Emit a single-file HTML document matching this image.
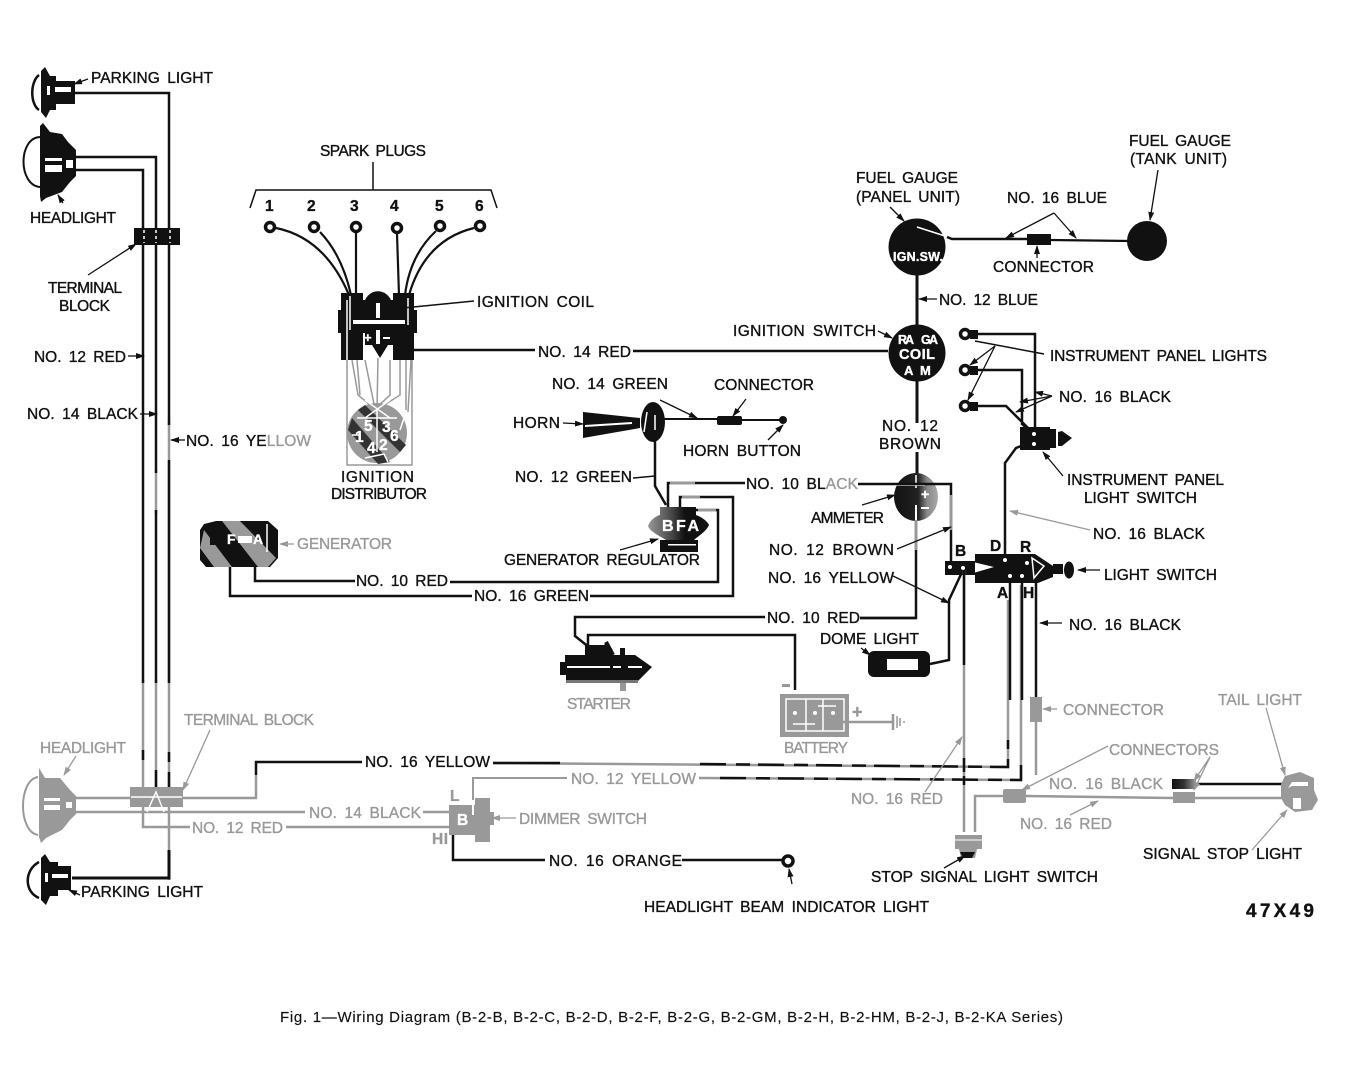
<!DOCTYPE html>
<html><head><meta charset="utf-8"><title>Wiring Diagram</title>
<style>
html,body{margin:0;padding:0;background:#fff}
svg{display:block}
text{font-family:"Liberation Sans",sans-serif;font-size:15.5px;word-spacing:3px;fill:#111;stroke:#111;stroke-width:.35}
text.g{fill:#999;stroke:#999}
text.w{fill:#fff;stroke:#fff;font-weight:bold}
text.b{font-weight:bold}
.k{fill:none;stroke:#111;stroke-width:3}
.t{fill:none;stroke:#111;stroke-width:1.5}
.y{fill:none;stroke:#999;stroke-width:3}
.u{fill:none;stroke:#999;stroke-width:1.5}
.a{fill:none;stroke:#111;stroke-width:1.3;marker-end:url(#ah)}
.ag{fill:none;stroke:#999;stroke-width:1.3;marker-end:url(#ahg)}
.d{fill:none;stroke:#111;stroke-width:2.5;stroke-dasharray:26 10 14 8}
</style></head><body>
<svg width="1352" height="1080" viewBox="0 0 1352 1080" xmlns="http://www.w3.org/2000/svg">
<defs>
<marker id="ah" markerWidth="9" markerHeight="7" refX="8" refY="3" orient="auto" markerUnits="userSpaceOnUse"><path d="M0,0L9,3L0,6Z" fill="#111"/></marker>
<marker id="ahg" markerWidth="9" markerHeight="7" refX="8" refY="3" orient="auto" markerUnits="userSpaceOnUse"><path d="M0,0L9,3L0,6Z" fill="#999"/></marker>
<linearGradient id="am" x1="0" x2="1"><stop offset="0" stop-color="#111"/><stop offset=".55" stop-color="#222"/><stop offset=".75" stop-color="#888"/><stop offset="1" stop-color="#aaa"/></linearGradient>
<linearGradient id="re" x1="0" x2="1"><stop offset="0" stop-color="#111"/><stop offset=".5" stop-color="#333"/><stop offset="1" stop-color="#999"/></linearGradient>
<linearGradient id="rg" x1="0" x2="1"><stop offset="0" stop-color="#999"/><stop offset=".4" stop-color="#444"/><stop offset=".6" stop-color="#111"/><stop offset="1" stop-color="#111"/></linearGradient>
</defs>
<rect width="1352" height="1080" fill="#fff"/>

<!-- upper left lamps -->
<path d="M39,75C30,82 30,104 39,110" fill="#fff" stroke="#111" stroke-width="2.5"/>
<path d="M41,71L45,67L50,76H56V81H75V104H56V110H50L46,118L41,112Z" fill="#111"/>
<rect x="47" y="86" width="3" height="9" fill="#fff"/><rect x="55" y="87" width="16" height="5" fill="#fff"/>
<path d="M40,137C18,138 18,185 40,187" fill="#fff" stroke="#111" stroke-width="2"/>
<path d="M40,126L43,123L50,132L62,134L68,142L76,150V176L70,182L62,192L46,198L41,202L40,196Z" fill="#111"/>
<rect x="45" y="158" width="17" height="3" fill="#fff"/><rect x="45" y="165" width="17" height="7" fill="#fff"/><rect x="66" y="160" width="7" height="8" fill="#fff"/>
<rect x="134" y="228" width="46" height="17" fill="#111"/>

<!-- vertical wires -->
<path class="y" d="M143,680V827H190M156,680V790M169,420V880" style="stroke-width:2.5"/>
<path class="y" d="M156,470V515" style="stroke-width:2.5"/>
<path class="k" style="stroke-width:2.5" d="M75,93H169V425M169,460V683M75,157H156V473M156,510V683M75,170H143V683"/>
<path class="k" style="stroke-width:2.5" d="M143,750V760M156,770V787M169,752V762M169,772V787"/>
<path d="M144,230V243M156,230V243M170,230V243" stroke="#fff" stroke-width="1.5" stroke-dasharray="3 3"/>
<path class="k" d="M169,850V878H72"/>

<!-- lower left -->
<path d="M38,777C18,780 18,832 38,835" fill="#fff" stroke="#999" stroke-width="2"/>
<path d="M39,768L45,778L60,778L70,790L76,796V814L70,820L62,830L46,838L41,843L39,837Z" fill="#999"/>
<rect x="44" y="798" width="16" height="3" fill="#fff"/><rect x="44" y="805" width="16" height="5" fill="#fff"/><rect x="66" y="802" width="6" height="6" fill="#fff"/>
<path class="y" d="M76,798H130M76,812H175M183,798H256V775M165,812H305M423,812H450M286,827H450" style="stroke-width:2.5"/>
<path class="k" d="M256,775V762H362" style="stroke-width:2.5"/>
<path class="y" style="stroke-width:2.5" d="M493,763L1008,767V600M699,778L1021,780V585"/>
<path class="k" style="stroke-width:2.5" d="M493,763H560"/>
<path class="d" d="M700,764L1008,767V740"/>
<path class="d" d="M720,778L1021,780V760"/>
<rect x="130" y="787" width="53" height="20" fill="#999"/>
<path d="M131,797H182M147,812L156,792L164,812" stroke="#fff" stroke-width="1.5" fill="none"/>
<path d="M39,862C24,870 24,892 39,898" fill="#fff" stroke="#111" stroke-width="2.5"/>
<path d="M41,858L45,854L50,862H58V866H71V890H58V896H50L46,905L41,900Z" fill="#111"/>
<rect x="45" y="873" width="3" height="9" fill="#fff"/><rect x="52" y="874" width="16" height="4" fill="#fff"/>

<!-- dimmer -->
<path d="M449,805H475V798H490V812H494V825H490V842H475V835H449Z" fill="#999"/>
<text class="w" x="457" y="825">B</text>
<path d="M473,815V800" stroke="#fff" stroke-width="2"/>
<path class="y" d="M473,800V778H567" style="stroke-width:2"/>
<path class="k" d="M453,835V860H545M682,860H782" style="stroke-width:2.5"/>
<circle cx="788" cy="861" r="5" fill="#fff" stroke="#111" stroke-width="3.5"/>
<path class="a" d="M792,884L789,869"/>

<!-- spark plugs -->
<path class="t" d="M250,208L256,190H491L497,208M373,162V190"/>
<g fill="#fff" stroke="#111" stroke-width="3.5"><circle cx="270" cy="227" r="4.5"/><circle cx="314" cy="227" r="4.5"/><circle cx="356" cy="227" r="4.5"/><circle cx="397" cy="228" r="4.5"/><circle cx="440" cy="226" r="4.5"/><circle cx="480" cy="226" r="4.5"/></g>
<path class="k" style="stroke-width:2.2" d="M276,228Q325,238 349,295M320,232Q342,255 351,295M356,233V295M397,234L399,295M436,231Q410,255 405,295M474,228Q425,240 409,295"/>

<!-- coil -->
<rect x="341" y="293" width="22" height="67" fill="#111"/>
<rect x="393" y="293" width="21" height="67" fill="#111"/>
<path d="M363,310C363,285 393,285 393,310Z" fill="#111"/>
<rect x="338" y="310" width="79" height="23" fill="#111"/>
<rect x="363" y="300" width="30" height="12" fill="#111"/>
<path d="M365,333H395V345L388,345L380,358L372,345H365Z" fill="#111"/>
<rect x="353" y="320" width="52" height="4" fill="#fff"/>
<path d="M347,300V360M350,296V330M408,298V325" stroke="#fff" stroke-width="1.5"/>
<rect x="376" y="303" width="4" height="15" fill="#fff"/><rect x="376" y="330" width="4" height="14" fill="#fff"/>
<text class="w" x="364" y="342" style="font-size:13px">+</text><rect x="383" y="337" width="7" height="2" fill="#fff"/>
<path class="t" d="M383,310L474,301"/>
<path class="k" d="M395,350H535M633,351H888" style="stroke-width:2.5"/>

<!-- distributor -->
<circle cx="377" cy="433" r="30" fill="#999"/>
<path d="M352,418L390,462L378,464L348,430Z" fill="#333"/>
<path d="M365,405L406,445L400,452L358,410Z" fill="#333"/>
<path class="u" d="M347,360V465H412V360M352,360L358,395L375,409L390,395V360M357,360L360,395M365,360L375,409M378,358L377,409M400,360L400,395L378,409M406,360V410M411,360L408,412"/>
<path d="M377,410V452M357,418L397,418M365,400L390,418M390,400L365,418M365,458L384,454L388,462M352,435H360M400,430L406,412" stroke="#fff" stroke-width="1.5" fill="none"/>
<g><text class="w" x="364" y="431">5</text><text class="w" x="382" y="432">3</text><text class="w" x="355" y="442">1</text><text class="w" x="390" y="441">6</text><text class="w" x="367" y="453">4</text><text class="w" x="379" y="450">2</text></g>

<!-- center wires -->
<circle cx="917" cy="247" r="28.5" fill="#111"/>
<circle cx="1147" cy="241" r="20" fill="#111"/>
<path d="M947,237L952,239H1028" stroke="#111" stroke-width="2.5" fill="none"/><path d="M917,227L945,236" stroke="#fff" stroke-width="1.6"/>
<rect x="1027" y="234" width="24" height="11" fill="#111"/>
<path class="k" d="M1051,240L1130,241" style="stroke-width:2.2"/>
<path class="k" d="M917,263V330M917,380V423M917,452V480"/>
<circle cx="917" cy="353" r="28.5" fill="#111"/>
<text class="w" x="893" y="261" style="font-size:12.5px;word-spacing:0" textLength="50">IGN.SW.</text>
<text class="w" x="898" y="344" style="font-size:12.5px" textLength="16">RA</text><text class="w" x="921" y="344" style="font-size:12.5px" textLength="17">GA</text>
<text class="w" x="899" y="359" style="font-size:14.5px" textLength="36">COIL</text>
<text class="w" x="904" y="375" style="font-size:13px">A</text><text class="w" x="920" y="375" style="font-size:13px">M</text>
<ellipse cx="916" cy="497" rx="22" ry="24" fill="url(#am)"/>
<path d="M916,475V488M895,485H925" stroke="#fff" stroke-width="1.5"/>
<text class="w" x="921" y="499" style="font-size:14px">+</text><rect x="921" y="507" width="8" height="2" fill="#fff"/>
<path d="M916,505V520" stroke="#fff" stroke-width="2"/>
<path class="k" d="M858,484H951V565M916,521V618H860" style="stroke-width:2.5"/>
<path d="M951,495V530M916,520V550" stroke="#999" stroke-width="3" fill="none"/>

<!-- light switch block -->
<path d="M975,554H1035L1053,566V577L1038,583H975V575H945V561H975Z" fill="#111"/>
<path d="M975,563L992,567L975,572" fill="#fff" stroke="#fff" stroke-width="1"/>
<path d="M1032,558L1044,566L1034,578Z" fill="none" stroke="#fff" stroke-width="1.5"/>
<rect x="1053" y="564" width="10" height="10" fill="#111"/>
<ellipse cx="1069" cy="570" rx="5" ry="8.5" fill="#111"/>
<g fill="#fff"><circle cx="950" cy="567" r="2"/><circle cx="963" cy="568" r="2"/><circle cx="1005" cy="560" r="2"/><circle cx="1010" cy="576" r="2"/><circle cx="1022" cy="576" r="2"/><circle cx="1027" cy="563" r="2"/></g>
<path class="k" d="M1005,556V463L1016,448L1032,442" style="stroke-width:2.5"/>
<path class="k" d="M963,570L949,600V660L930,664" style="stroke-width:2.5"/>
<path class="k" d="M1010,578V700M1022,578V700M1036,580V700" style="stroke-width:2.5"/>
<path class="y" d="M1036,700V775M964,570V832" style="stroke-width:2.5"/>
<path class="k" d="M964,570V665" style="stroke-width:2.5"/>
<rect x="1030" y="697" width="12" height="25" fill="#999"/>
<rect x="868" y="651" width="62" height="26" rx="6" fill="#111"/>
<rect x="887" y="659" width="31" height="11" fill="#fff"/>

<!-- instrument lights -->
<g fill="#fff" stroke="#111" stroke-width="3.5"><circle cx="965" cy="334" r="4.5"/><circle cx="965" cy="370" r="4.5"/><circle cx="965" cy="406" r="4.5"/></g>
<rect x="970" y="330" width="8" height="9" fill="#111"/><rect x="970" y="366" width="8" height="9" fill="#111"/><rect x="970" y="402" width="8" height="9" fill="#111"/>
<path class="k" style="stroke-width:2.5" d="M975,334H1035V430M975,370H1022V424L1034,434M975,406H1006L1034,434"/>
<path d="M1020,427H1050V450H1020Z" fill="#111"/><path d="M1050,429V448H1056V429ZM1058,432V446H1062L1072,438L1062,431Z" fill="#111"/>
<circle cx="1034" cy="434" r="2" fill="#fff"/><circle cx="1034" cy="444" r="2" fill="#fff"/>
<path class="t" d="M975,341L1044,354"/>
<path class="a" d="M995,346L970,365"/><path class="a" d="M995,346L968,400"/>
<path class="a" d="M1052,396L1035,392"/><path class="a" d="M1052,396L1020,402"/><path class="a" d="M1052,396L1016,412"/>
<path class="a" d="M1063,476L1043,452"/>
<path d="M1090,530L1010,511" class="ag"/>

<!-- horn -->
<path d="M583,412L640,418V428L583,438Z" fill="#111"/><path d="M585,426L632,423" stroke="#fff" stroke-width="2"/>
<ellipse cx="653" cy="422" rx="12" ry="20" fill="#111"/><path d="M647,412L644,432M655,415V430" stroke="#fff" stroke-width="1.5"/>
<path class="k" style="stroke-width:2" d="M660,419H717M742,420H781"/>
<rect x="717" y="416" width="25" height="9" rx="2" fill="#111"/>
<circle cx="783" cy="420" r="4" fill="#111"/>
<path class="k" style="stroke-width:2.5" d="M655,440V486L666,505"/>
<path class="a" d="M660,400L697,418"/><path class="a" d="M746,399L733,416"/><path class="a" d="M768,440L783,425"/><path class="a" d="M563,423L583,424"/>
<path class="t" d="M633,478L655,476"/>

<!-- regulator -->
<path class="k" style="stroke-width:2.5" d="M668,507V483H745"/>
<path class="k" style="stroke-width:2.5" d="M680,510V497H733V596H590"/>
<path class="k" style="stroke-width:2.5" d="M695,510H718V582H450"/>
<path d="M670,483H695M682,497H700M698,510H716" stroke="#999" stroke-width="3"/>
<path d="M660,507H696V515C702,517 708,522 709,525C706,532 698,536 694,540H666C660,536 650,532 648,526C650,520 656,516 660,515Z" fill="url(#rg)"/>
<rect x="660" y="540" width="38" height="12" fill="#111"/>
<rect x="668" y="544" width="28" height="1.5" fill="#fff"/>
<text class="w" x="662" y="531" style="font-size:16px" textLength="37">BFA</text>
<path class="a" d="M620,550L658,539"/>

<!-- generator -->
<path class="k" style="stroke-width:2.5" d="M355,581H255V565"/>
<path class="k" style="stroke-width:2.5" d="M230,565V596H472"/>
<path d="M204,524L216,521H268L278,530V558L270,567H206L200,560V530Z" fill="#111"/>
<path d="M204,530L232,567H214L200,548ZM222,521H240L276,558L268,567H258Z" fill="#999"/>
<path d="M210,535H222V545H210Z" fill="#111"/>
<text class="w" x="227" y="544" style="font-size:14px">F</text><text class="w" x="253" y="544" style="font-size:14px">A</text>
<rect x="238" y="536" width="14" height="7" fill="#fff"/>
<path d="M267,524V552" stroke="#fff" stroke-width="1.5"/>

<!-- starter & battery -->
<path class="k" style="stroke-width:2.5" d="M765,617H575V636L590,648M588,650V635H795V690"/>
<path class="k" style="stroke-width:2.5" d="M860,618H916"/>
<path d="M565,655H635L652,667L637,682H566V675H560V662H565Z" fill="#111"/>
<path d="M585,645H604L608,642L613,655H585ZM620,648H625V655H620Z" fill="#111"/>
<path d="M606,642L613,655" stroke="#111" stroke-width="4"/>
<path d="M567,667H610M613,667H621M628,667H642" stroke="#fff" stroke-width="2"/>
<rect x="620" y="683" width="6" height="8" fill="#999"/>
<rect x="566" y="680" width="72" height="3" fill="#777"/>
<rect x="780" y="694" width="69" height="43" fill="#999"/>
<rect x="786" y="699" width="58" height="32" fill="none" stroke="#fff" stroke-width="1.5"/>
<path d="M806,699V731M823,699V731M793,724H815M818,706H836" stroke="#fff" stroke-width="1.5"/>
<g fill="#fff"><circle cx="795" cy="713" r="2"/><circle cx="815" cy="713" r="2"/><circle cx="833" cy="713" r="2"/></g>
<rect x="782" y="684" width="8" height="3" fill="#999"/>
<path class="y" d="M838,722H893" style="stroke-width:2.5"/>
<path d="M893,714V730" stroke="#999" stroke-width="2.5"/><path d="M897,716V728M900,718V726M903,722H905" stroke="#999" stroke-width="1.5"/>
<text class="g" x="852" y="718" style="font-size:18px;font-weight:bold">+</text>

<!-- stop switch and tail -->
<path class="y" d="M975,832V796H1003M1026,796L1173,798M1195,798H1282" style="stroke-width:2.5"/>
<path class="k" d="M964,758V772M964,776V785M1196,784H1282" style="stroke-width:2.5"/>
<rect x="1003" y="789" width="23" height="14" rx="2" fill="#999"/>
<rect x="1173" y="792" width="22" height="11" fill="#999"/>
<rect x="1172" y="779" width="24" height="10" fill="url(#re)"/>
<path d="M955,835H982V849H977L975,858H961L959,849H955Z" fill="#999"/><path d="M960,852H975L972,858H963Z" fill="#111"/>
<path d="M955,840H982" stroke="#fff" stroke-width="1"/>
<path d="M1285,776L1300,772L1314,778V790L1318,800L1312,810L1295,812L1285,805L1281,798V784Z" fill="#999"/>
<path d="M1288,788L1292,782H1308V786H1292Z" fill="#fff"/><rect x="1293" y="798" width="8" height="11" fill="#fff"/>

<!-- arrows, black -->
<path class="a" d="M88,79L74,84"/><path class="a" d="M63,203L58,195"/>
<path class="a" d="M88,275L136,244"/>
<path class="a" d="M128,356H144"/><path class="a" d="M140,414H157"/><path class="a" d="M185,440H171"/>
<path class="a" d="M80,895L69,890"/>
<path class="a" d="M878,331L892,338"/>
<path class="a" d="M890,207L904,221"/>
<path class="a" d="M1054,213L1006,238"/><path class="a" d="M1054,213L1076,238"/>
<path class="a" d="M1037,258L1037,246"/>
<path class="a" d="M1158,170L1150,220"/>
<path class="a" d="M937,299H919"/>
<path class="a" d="M1100,570H1078"/>
<path class="a" d="M1062,623H1040"/>
<path class="a" d="M897,549L951,527"/>
<path class="a" d="M893,576L949,603"/>
<path class="a" d="M862,505L895,495"/>
<path class="a" d="M861,648L870,655"/>
<path class="a" d="M944,868L965,856"/>
<!-- arrows, gray -->
<path class="ag" d="M294,544H280"/>
<path class="ag" d="M1057,709H1043"/>
<path class="ag" d="M210,730L183,790"/>
<path class="ag" d="M76,756L64,775"/>
<path class="ag" d="M516,818H492"/>
<path class="ag" d="M1108,746L1022,790"/>
<path class="ag" d="M1210,757L1194,781"/><path class="ag" d="M1210,757L1194,790"/>
<path class="ag" d="M1266,708L1285,775"/>
<path class="ag" d="M1252,850L1287,810"/>
<path class="ag" d="M925,792L962,737"/>
<path class="ag" d="M1070,815L1098,801"/>

<!-- labels -->
<text x="91" y="83" textLength="122">PARKING LIGHT</text>
<text x="30" y="223" textLength="86">HEADLIGHT</text>
<text x="48" y="293" textLength="74">TERMINAL</text><text x="59" y="311" textLength="51">BLOCK</text>
<text x="34" y="362" textLength="92">NO. 12 RED</text>
<text x="27" y="419" textLength="111">NO. 14 BLACK</text>
<text x="186" y="446" textLength="125">NO. 16 YE<tspan fill="#999" stroke="#999">LLOW</tspan></text>
<text x="320" y="156" textLength="106">SPARK PLUGS</text>
<g><text class="b" x="265" y="211">1</text><text class="b" x="307" y="211">2</text><text class="b" x="350" y="211">3</text><text class="b" x="390" y="211">4</text><text class="b" x="435" y="211">5</text><text class="b" x="475" y="211">6</text></g>
<text x="477" y="307" textLength="117">IGNITION COIL</text>
<text x="538" y="357" textLength="93">NO. 14 RED</text>
<text x="733" y="336" textLength="143">IGNITION SWITCH</text>
<text x="341" y="482" textLength="73">IGNITION</text><text x="331" y="499" textLength="96">DISTRIBUTOR</text>
<text x="856" y="183" textLength="102">FUEL GAUGE</text><text x="856" y="202" textLength="104">(PANEL UNIT)</text>
<text x="1129" y="146" textLength="102">FUEL GAUGE</text><text x="1130" y="164" textLength="97">(TANK UNIT)</text>
<text x="1007" y="203" textLength="100">NO. 16 BLUE</text>
<text x="993" y="272" textLength="101">CONNECTOR</text>
<text x="939" y="305" textLength="99">NO. 12 BLUE</text>
<text x="1050" y="361" textLength="217">INSTRUMENT PANEL LIGHTS</text>
<text x="1059" y="402" textLength="112">NO. 16 BLACK</text>
<text x="1067" y="485" textLength="157">INSTRUMENT PANEL</text><text x="1084" y="503" textLength="113">LIGHT SWITCH</text>
<text x="882" y="431" textLength="56">NO. 12</text><text x="879" y="449" textLength="62">BROWN</text>
<text x="746" y="489" textLength="112">NO. 10 BL<tspan fill="#999" stroke="#999">ACK</tspan></text>
<text x="811" y="523" textLength="73">AMMETER</text>
<text x="769" y="555" textLength="125">NO. 12 BROWN</text>
<text x="768" y="583" textLength="126">NO. 16 YELLOW</text>
<text x="1093" y="539" textLength="112">NO. 16 BLACK</text>
<text x="1104" y="580" textLength="113">LIGHT SWITCH</text>
<text class="b" x="955" y="556" textLength="12">B</text><text class="b" x="990" y="551" textLength="12">D</text><text class="b" x="1020" y="552" textLength="13">R</text><text class="b" x="997" y="598" textLength="11">A</text><text class="b" x="1023" y="598" textLength="13">H</text>
<text x="1069" y="630" textLength="112">NO. 16 BLACK</text>
<text x="552" y="389" textLength="116">NO. 14 GREEN</text>
<text x="714" y="390" textLength="100">CONNECTOR</text>
<text x="513" y="428" textLength="47">HORN</text>
<text x="683" y="456" textLength="118">HORN BUTTON</text>
<text x="515" y="482" textLength="117">NO. 12 GREEN</text>
<text class="g" x="297" y="549" textLength="95">GENERATOR</text>
<text x="504" y="565" textLength="196">GENERATOR REGULATOR</text>
<text x="356" y="586" textLength="92">NO. 10 RED</text>
<text x="474" y="601" textLength="115">NO. 16 GREEN</text>
<text x="767" y="623" textLength="93">NO. 10 RED</text>
<text x="820" y="644" textLength="99">DOME LIGHT</text>
<text class="g" x="567" y="709" textLength="64">STARTER</text>
<text class="g" x="784" y="753" textLength="64">BATTERY</text>
<text class="g" x="1063" y="715" textLength="101">CONNECTOR</text>
<text class="g" x="1109" y="755" textLength="110">CONNECTORS</text>
<text class="g" x="1218" y="705" textLength="84">TAIL LIGHT</text>
<text x="365" y="767" textLength="125">NO. 16 YELLOW</text>
<text class="g" x="571" y="784" textLength="125">NO. 12 YELLOW</text>
<text class="g" x="1049" y="789" textLength="114">NO. 16 BLACK</text>
<text class="g" x="851" y="804" textLength="92">NO. 16 RED</text>
<text class="g" x="1020" y="829" textLength="92">NO. 16 RED</text>
<text x="1143" y="859" textLength="159">SIGNAL STOP LIGHT</text>
<text x="871" y="882" textLength="227">STOP SIGNAL LIGHT SWITCH</text>
<text x="644" y="912" textLength="285">HEADLIGHT BEAM INDICATOR LIGHT</text>
<text x="549" y="866" textLength="133">NO. 16 ORANGE</text>
<text class="g" x="40" y="753" textLength="86">HEADLIGHT</text>
<text class="g" x="184" y="725" textLength="130">TERMINAL BLOCK</text>
<text class="g" x="309" y="818" textLength="112">NO. 14 BLACK</text>
<text class="g" x="192" y="833" textLength="91">NO. 12 RED</text>
<text class="g" x="519" y="824" textLength="128">DIMMER SWITCH</text>
<text class="g b" x="450" y="801" textLength="9">L</text><text class="g b" x="432" y="844" textLength="16">HI</text>
<text x="81" y="897" textLength="122">PARKING LIGHT</text>
<text x="1246" y="917" textLength="68" style="font-size:19px;font-weight:bold">47X49</text>
<text x="280" y="1022" textLength="783" style="font-size:15px;stroke-width:.15;word-spacing:0">Fig. 1—Wiring Diagram (B-2-B, B-2-C, B-2-D, B-2-F, B-2-G, B-2-GM, B-2-H, B-2-HM, B-2-J, B-2-KA Series)</text>
</svg>
</body></html>
